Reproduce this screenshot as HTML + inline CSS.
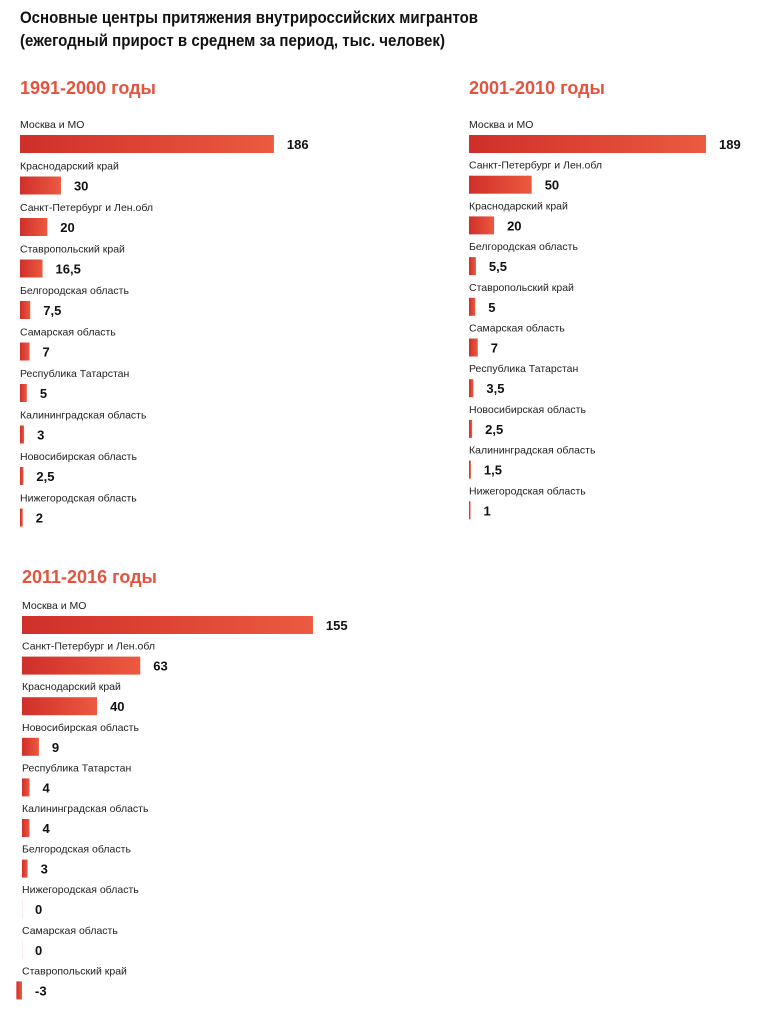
<!DOCTYPE html>
<html><head><meta charset="utf-8">
<style>
body{margin:0;background:#fff;width:775px;height:1024px;overflow:hidden;font-family:"Liberation Sans",sans-serif;}
svg text{font-family:"Liberation Sans",sans-serif;}
</style></head>
<body>
<svg id="c" width="775" height="1024" xmlns="http://www.w3.org/2000/svg">
<defs><linearGradient id="g" x1="0" x2="1" y1="0" y2="0"><stop offset="0" stop-color="#d02f2a"/><stop offset="1" stop-color="#ec5a3f"/></linearGradient></defs>
<text x="20" y="23" font-size="17" font-weight="bold" fill="#111" textLength="458" lengthAdjust="spacingAndGlyphs">Основные центры притяжения внутрироссийских мигрантов</text>
<text x="20" y="46" font-size="17" font-weight="bold" fill="#111" textLength="425" lengthAdjust="spacingAndGlyphs">(ежегодный прирост в среднем за период, тыс. человек)</text>
</svg>
<script>
const cats1=["Москва и МО","Краснодарский край","Санкт-Петербург и Лен.обл","Ставропольский край","Белгородская область","Самарская область","Республика Татарстан","Калининградская область","Новосибирская область","Нижегородская область"];
const vals1=[186,30,20,16.5,7.5,7,5,3,2.5,2];
const cats2=["Москва и МО","Санкт-Петербург и Лен.обл","Краснодарский край","Белгородская область","Ставропольский край","Самарская область","Республика Татарстан","Новосибирская область","Калининградская область","Нижегородская область"];
const vals2=[189,50,20,5.5,5,7,3.5,2.5,1.5,1];
const cats3=["Москва и МО","Санкт-Петербург и Лен.обл","Краснодарский край","Новосибирская область","Республика Татарстан","Калининградская область","Белгородская область","Нижегородская область","Самарская область","Ставропольский край"];
const vals3=[155,63,40,9,4,4,3,0,0,-3];
const titles=["1991-2000 годы","2001-2010 годы","2011-2016 годы"];

const svg=document.getElementById('c');
const NS="http://www.w3.org/2000/svg";
function mk(t,a){const e=document.createElementNS(NS,t);for(const k in a)e.setAttribute(k,a[k]);svg.appendChild(e);return e;}
function fmt(v){return String(v).replace('.',',');}
function panel(idx,cats,vals,x0,titleY,top,step,scale){
  const t=mk('text',{x:x0,y:titleY,'font-size':18,'font-weight':'bold',fill:'#e5533f'});
  t.textContent=titles[idx];
  
  
  cats.forEach((c,i)=>{
    const y=top+i*step;
    const l=mk('text',{x:x0,y:y,'font-size':10.5,fill:'#222'});
    l.textContent=c;
    
    
    const v=vals[i];
    let w=Math.abs(v)*scale; if(v!==0)w=Math.max(w,1.5);
    const bx=v<0?x0-w:x0;
    const r=mk('rect',{x:bx,y:y+7,width:v===0?0.6:w,height:18,fill:v===0?'#f4dede':'url(#g)'});
    
    
    const lx=(v<0?x0:x0+w)+13;
    const vt=mk('text',{x:lx,y:y+21,'font-size':13,'font-weight':'bold',fill:'#111'});
    vt.textContent=fmt(v);
    
    
  });
}
panel(0,cats1,vals1,20,94,128,41.5,1.365);
panel(1,cats2,vals2,469,94,128,40.7,1.254);
panel(2,cats3,vals3,22,583,609,40.6,1.877);
</script>
</body></html>
